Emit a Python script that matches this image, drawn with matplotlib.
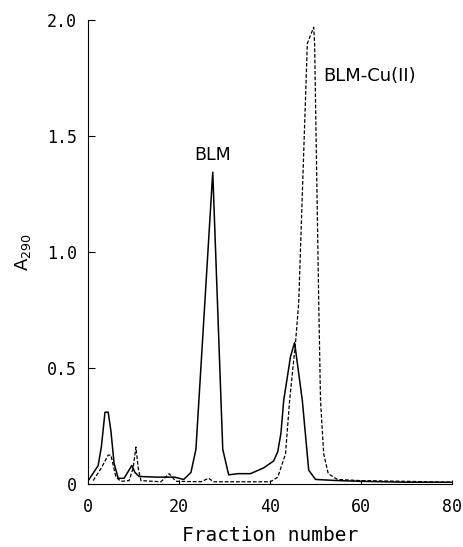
import matplotlib.pyplot as plt

# BLM (solid)
blm_x = [0.2, 2.2, 2.9, 3.7, 4.4, 5.0, 5.7, 6.6, 7.9, 9.6, 10.3, 11.2, 15.0, 19.0, 21.0,
         22.6, 23.7, 27.4, 29.6, 30.9, 33.0, 35.7, 38.6, 40.8, 41.7, 42.4, 43.0, 44.5,
         45.4, 47.1, 48.5, 50.0, 55.0, 60.0, 70.0, 80.0]
blm_y = [0.02, 0.08, 0.16, 0.31, 0.31, 0.23, 0.09, 0.025, 0.025, 0.08, 0.05, 0.033, 0.03,
         0.03, 0.02, 0.05, 0.15, 1.345, 0.15, 0.04, 0.045, 0.045, 0.07, 0.10, 0.14, 0.22,
         0.36, 0.55, 0.61, 0.36, 0.06, 0.02, 0.015, 0.012, 0.008, 0.008]

# BLM-Cu(II) (dashed)
cu_x = [1.1, 2.9, 4.4, 5.0, 6.1, 7.2, 9.0, 9.9, 10.5, 11.0, 11.6, 16.0, 17.8, 19.3, 24.8,
        26.5, 27.6, 35.0, 40.1, 41.7, 43.4, 44.3, 45.6, 46.3, 48.2, 49.6, 49.8, 50.7,
        51.1, 51.8, 52.8, 54.8, 60.0, 70.0, 80.0]
cu_y = [0.015, 0.07, 0.125, 0.125, 0.03, 0.012, 0.015, 0.07, 0.16, 0.07, 0.015, 0.01,
        0.045, 0.012, 0.01, 0.025, 0.01, 0.01, 0.01, 0.03, 0.13, 0.36, 0.61, 0.78, 1.90,
        1.97, 1.90, 0.79, 0.36, 0.13, 0.045, 0.02, 0.015, 0.012, 0.008]

xticks = [0, 20, 40, 60, 80]
yticks = [0, 0.5, 1.0, 1.5, 2.0]
ytick_labels = ['0', '0.5', '1.0', '1.5', '2.0']

fig = plt.figure(figsize=(4.64, 5.47), dpi=100)
ax = fig.add_axes([0.19, 0.115, 0.784, 0.848])

ax.plot(blm_x, blm_y, '-', color='k', linewidth=1.1)
ax.plot(cu_x, cu_y, color='k', linewidth=0.9, linestyle=(0, (3, 1.5)))

ax.text(27.4, 1.42, 'BLM', ha='center', va='center', fontsize=12.5)
ax.text(51.6, 1.76, 'BLM-Cu(II)', ha='left', va='center', fontsize=13)

ax.set_xlim(0, 80)
ax.set_ylim(0, 2.0)
ax.set_xticks(xticks)
ax.set_yticks(yticks)
ax.set_yticklabels(ytick_labels)
ax.spines['top'].set_visible(False)
ax.spines['right'].set_visible(False)
ax.tick_params(axis='y', direction='in', length=5, labelsize=12, pad=8)
ax.tick_params(axis='x', direction='in', length=3, labelsize=12, pad=10)
for lab in ax.get_xticklabels() + ax.get_yticklabels():
    lab.set_family('DejaVu Sans Mono')

ax.set_xlabel('Fraction number', fontsize=14, family='DejaVu Sans Mono', labelpad=7)
ax.set_ylabel('A$_{290}$', fontsize=13, labelpad=10)

fig.savefig('out.png', dpi=100)
